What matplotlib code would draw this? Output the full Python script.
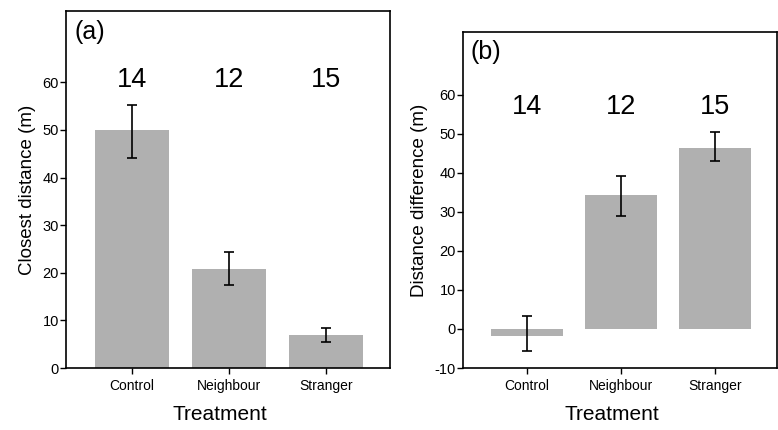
import matplotlib
matplotlib.use("Agg")
import matplotlib.pyplot as plt

plt.rcParams['font.family'] = ['Liberation Sans', 'DejaVu Sans']
plt.rcParams['axes.unicode_minus'] = False

categories = ["Control", "Neighbour", "Stranger"]
n_labels = ["14", "12", "15"]

# Panel (a): closest distance
closest_mean = [50.0, 20.9, 6.9]
closest_err_low = [44.2, 17.4, 5.4]
closest_err_high = [55.2, 24.3, 8.5]

# Panel (b): distance difference
diff_mean = [-1.8, 34.3, 46.3]
diff_err_low = [-5.6, 28.9, 42.9]
diff_err_high = [3.2, 39.1, 50.5]

bar_color = "#b0b0b0"

fig = plt.figure(figsize=(7.78, 4.30), dpi=100)
ax_a = fig.add_axes([66/778, 62/430, (390-66)/778, (368-11)/430])
ax_b = fig.add_axes([463/778, 62/430, (777-463)/778, (368-32)/430])


def draw(ax, means, lo, hi, ylabel, ylim, yticks, n_y, tag, tag_y, xlab_y):
    x = list(range(len(categories)))
    ax.bar(x, means, width=0.76, color=bar_color, edgecolor="none", zorder=1)
    yerr = [[m - l for m, l in zip(means, lo)], [h - m for m, h in zip(means, hi)]]
    ax.errorbar(x, means, yerr=yerr, fmt="none", ecolor="black",
                elinewidth=1.2, capsize=3.6, capthick=1.2, zorder=2)
    for xi, n in zip(x, n_labels):
        ax.text(xi, n_y, n, ha="center", va="center", fontsize=19.5)
    ax.text(0.025, tag_y, tag, transform=ax.transAxes, ha="left", va="top",
            fontsize=18)
    ax.set_xlim(-0.68, 2.66)
    ax.set_ylim(*ylim)
    ax.set_yticks(yticks)
    ax.set_xticks(x)
    ax.set_xticklabels(categories, fontsize=10)
    ax.tick_params(axis="y", labelsize=10.5, length=4, width=1, pad=1)
    ax.tick_params(axis="x", length=4, width=1, pad=4)
    for s in ax.spines.values():
        s.set_linewidth(1.2)
    ax.set_ylabel(ylabel, fontsize=13.5, labelpad=5)
    ax.set_xlabel("Treatment", fontsize=15)
    ax.xaxis.set_label_coords(0.475, xlab_y)


draw(ax_a, closest_mean, closest_err_low, closest_err_high,
     "Closest distance (m)", (0, 75), [0, 10, 20, 30, 40, 50, 60], 60.5,
     "(a)", 0.975, -0.103)
draw(ax_b, diff_mean, diff_err_low, diff_err_high,
     "Distance difference (m)", (-10, 76), [-10, 0, 10, 20, 30, 40, 50, 60], 56.8,
     "(b)", 0.975, -0.109)

fig.savefig("out.png", dpi=100)
